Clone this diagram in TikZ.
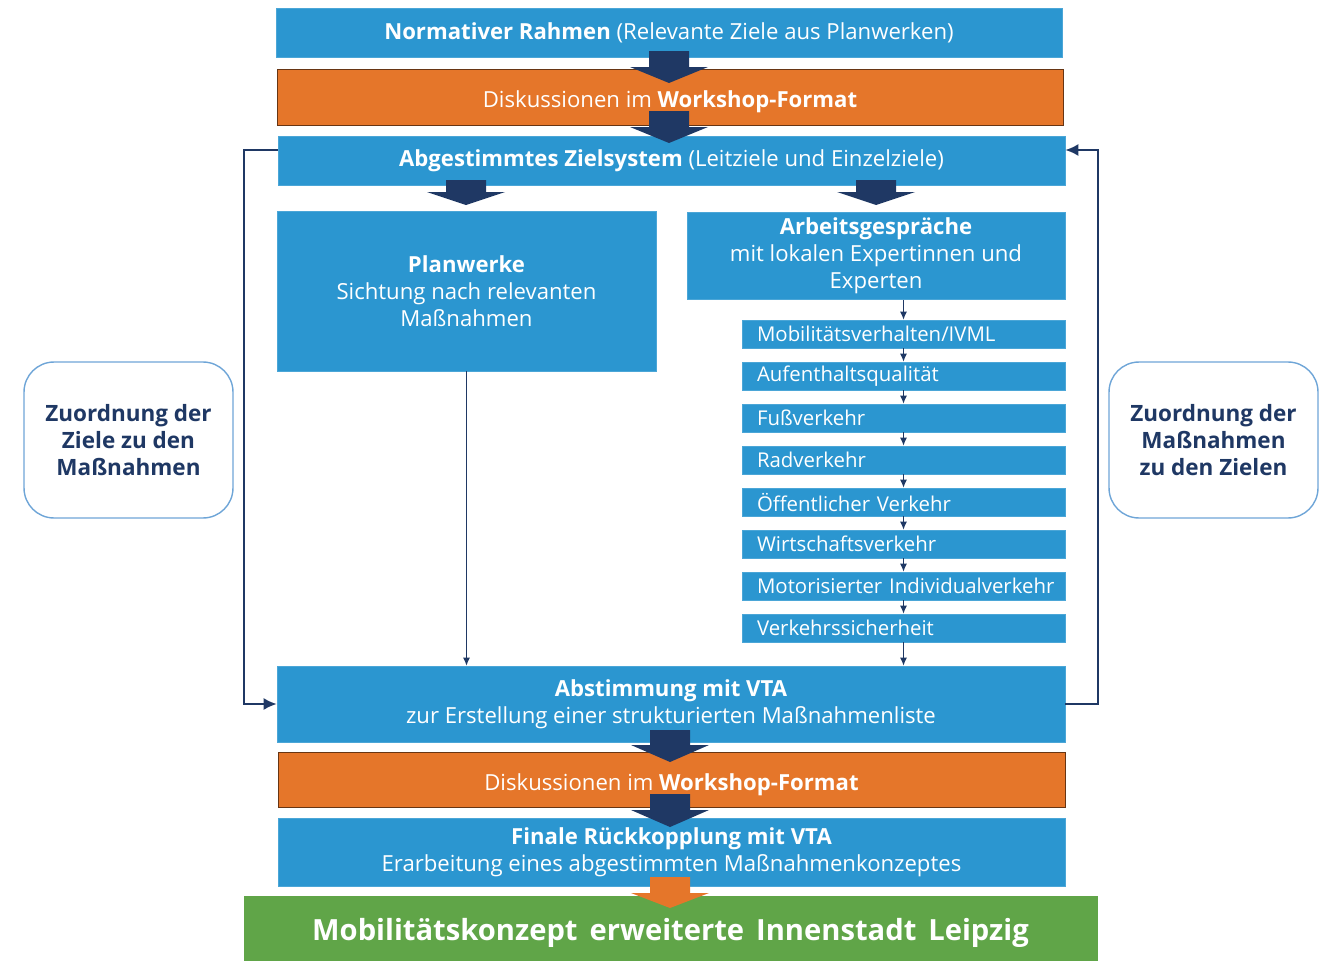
\documentclass[tikz,border=0pt]{standalone}
\usepackage{fontspec}
\setmainfont{Open Sans}
\usetikzlibrary{arrows.meta}

\definecolor{barblue}{RGB}{43,150,208}
\definecolor{wsorange}{RGB}{229,118,42}
\definecolor{finalgreen}{RGB}{96,165,72}
\definecolor{navy}{RGB}{31,56,100}
\definecolor{sideblue}{RGB}{110,165,215}

\begin{document}
\begin{tikzpicture}[x=0.02cm,y=-0.02cm,
  bar/.style={fill=barblue,draw=barblue!85!white,text=white,align=center,inner sep=0pt,font=\fontsize{12.6}{15.5}\selectfont},
  wsbar/.style={bar,fill=wsorange,draw=wsorange!45!black,text height=0.42cm,text depth=0cm},
  item/.style={bar,minimum width=6.46cm,minimum height=0.56cm,text width=5.86cm,align=left,font=\fontsize{11.6}{14}\selectfont},
  sidebox/.style={draw=sideblue,line width=0.8pt,rounded corners=0.6cm,minimum width=4.18cm,minimum height=3.12cm,text=navy,align=center,font=\bfseries\fontsize{12.8}{15.5}\selectfont},
  flow/.style={navy,line width=0.6pt,-{Latex[length=1.6mm,width=1.4mm]}},
  backline/.style={navy,line width=1.2pt,-{Latex[length=2.6mm,width=2.4mm]}}
]
\useasboundingbox (0,0) rectangle (1325,960);

\node[bar,minimum width=15.72cm,minimum height=0.98cm] (norm) at (669,32.5) {\textbf{Normativer Rahmen} (Relevante Ziele aus Planwerken)};
\node[wsbar,minimum width=15.72cm,minimum height=1.12cm] (ws1) at (670,97) {Diskussionen im \textbf{Workshop-Format}};
\node[bar,minimum width=15.74cm,minimum height=0.98cm] (ziel) at (671.5,160.5) {\textbf{Abgestimmtes Zielsystem} (Leitziele und Einzelziele)};
\node[bar,minimum width=7.58cm,minimum height=3.2cm] (plan) at (466.5,291) {\textbf{Planwerke}\\Sichtung nach relevanten\\Maßnahmen};
\node[bar,minimum width=7.56cm,minimum height=1.74cm] (arb) at (876,256) {\textbf{Arbeitsgespräche}\\mit lokalen Expertinnen und\\Experten};
\foreach \t [count=\i] in {Mobilitätsverhalten/IVML,Aufenthaltsqualität,Fußverkehr,Radverkehr,Öffentlicher Verkehr,Wirtschaftsverkehr,Motorisierter Individualverkehr,Verkehrssicherheit}
  \node[item] (i\i) at (903.5,292+42*\i) {\mbox{\t}};
\node[bar,minimum width=15.76cm,minimum height=1.52cm] (abst) at (671,704) {\textbf{Abstimmung mit VTA}\\zur Erstellung einer strukturierten Maßnahmenliste};
\node[wsbar,minimum width=15.74cm,minimum height=1.1cm] (ws2) at (671.5,779.5) {Diskussionen im \textbf{Workshop-Format}};
\node[bar,minimum width=15.74cm,minimum height=1.36cm] (fin) at (671.5,852) {\textbf{Finale Rückkopplung mit VTA}\\Erarbeitung eines abgestimmten Maßnahmenkonzeptes};
\node[bar,fill=finalgreen,draw=finalgreen,minimum width=17.06cm,minimum height=1.28cm,text height=0.5cm,text depth=0.02cm,font=\bfseries\fontsize{16.6}{19}\selectfont] (konzept) at (670.5,928) {Mobilitätskonzept\hspace{0.15em} erweiterte\hspace{0.15em} Innenstadt\hspace{0.15em} Leipzig};

\node[sidebox] (zuzm) at (128.5,440) {Zuordnung der\\Ziele zu den\\Maßnahmen};
\node[sidebox] (zumz) at (1213.5,440) {Zuordnung der\\Maßnahmen\\zu den Zielen};

\foreach \cx/\ya/\yb/\yc/\col in {669/51/67/83/navy,669/111/127/143/navy,466/180/192/205/navy,876/180/192/205/navy,670/730/745/762/navy,670/794/810/827/navy,670/877/893/908/wsorange}
  \fill[\col] (\cx-20,\ya) -- (\cx+20,\ya) -- (\cx+20,\yb) -- (\cx+39,\yb) -- (\cx,\yc) -- (\cx-39,\yb) -- (\cx-20,\yb) -- cycle;

\draw[flow] (arb.south -| i1.north) -- (i1.north);
\foreach \a/\b in {1/2,2/3,3/4,4/5,5/6,6/7,7/8}
  \draw[flow] (i\a.south) -- (i\b.north);
\draw[flow] (i8.south) -- (i8.south |- abst.north);
\draw[flow] (plan.south) -- (plan.south |- abst.north);

\draw[backline] ([yshift=0.21cm]ziel.west) -- ++(-34,0) |- (abst.west);
\draw[backline] (abst.east) -- ++(33,0) |- ([yshift=0.21cm]ziel.east);
\end{tikzpicture}
\end{document}
